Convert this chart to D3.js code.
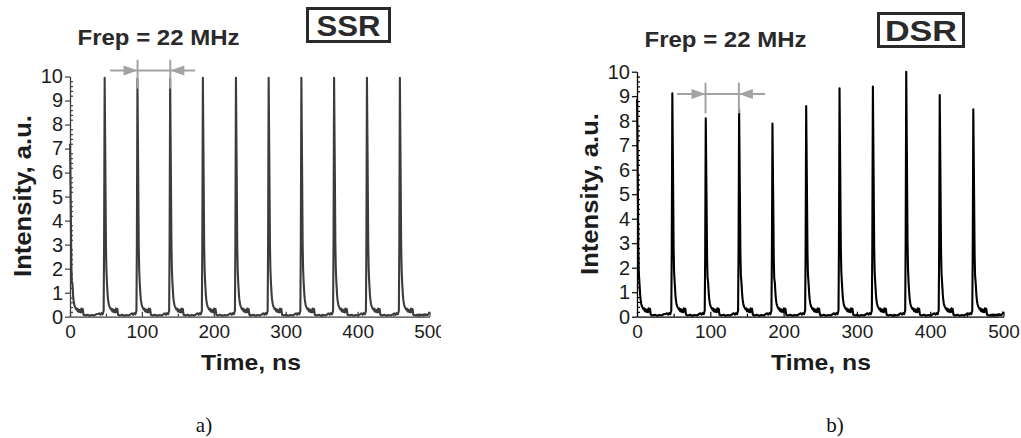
<!DOCTYPE html>
<html>
<head>
<meta charset="utf-8">
<script src="https://cdn.jsdelivr.net/npm/d3@7"></script>
<style>
  html, body { margin: 0; padding: 0; background: #fff; }
  svg { display: block; font-family: "Liberation Sans", Arial, sans-serif; }
  .domain { stroke-width: 1.3px; }
  .tick line { stroke-width: 1.2px; }
</style>
</head>
<body>
<div id="chart"></div>
<script>
// ── Data ───────────────────────────────────────────────────────────────────
const timeTicks      = [0, 100, 200, 300, 400, 500];
const timeMinor      = [50, 150, 250, 350, 450];
const intensityTicks = [0, 1, 2, 3, 4, 5, 6, 7, 8, 9, 10];
const intensityMinor = d3.range(0, 10.01, 0.2).filter(v => Math.abs(v - Math.round(v)) > 0.01);

// pulse arrival times, ns (first entry is the tail of a pulse at t≈0)
const pulseTimes = [-0.7, 47.4, 93, 138.5, 184, 230, 275.5, 321, 366.5, 412.2, 458];
const ssrPeaks   = [7.2, 9.95, 9.9, 9.9, 9.95, 9.95, 9.95, 9.95, 9.95, 9.95, 9.95];
const dsrPeaks   = [8.9, 9.12, 8.1, 8.44, 7.88, 8.6, 9.32, 9.39, 10.0, 9.05, 8.47];

// shape of one pulse: [dt ns, value for a peak of 10]
const pulseShape = [
  [-8, 0.12], [-6.5, 0.14], [-5, 0.08], [-3.5, 0.15], [-2, 0.1], [-0.6, 0.25],
  [0, 3], [0.8, 10], [1.8, 6.2], [2.6, 3.0], [3.2, 2.0], [4, 1.4],
  [5, 0.9], [5.6, 0.7], [6.5, 0.52], [7.5, 0.42], [8.5, 0.36], [9.5, 0.3],
  [10.5, 0.34], [11.5, 0.22], [12.5, 0.3], [13.5, 0.2], [14.5, 0.28],
  [15.5, 0.18], [16.5, 0.34], [17.5, 0.2], [18.5, 0.32], [19.5, 0.08],
  [22, 0.05], [25, 0.08], [28, 0.04], [31, 0.07], [34, 0.05], [37, 0.1]
];
const traceEnd = [[482, 0.05], [486, 0.09], [490, 0.05], [494, 0.08], [497, 0.06], [499, 0.14], [500, 0.2]];

// spacing markers: horizontal level, line extent and the two pulse positions
const ssrMarker = { level: 10.25, from: 55.7, to: 174, at: [94, 139.5], top: 10.7, bottom: 9.5 };
const dsrMarker = { level: 9.09, from: 54.6, to: 174.6, at: [93.5, 139], top: 9.55, bottom: 8.3 };

// ── Build trace from the pulse shape ───────────────────────────────────────
function buildTrace(peaks) {
  const pts = [];
  pulseTimes.forEach((t0, i) => {
    pulseShape.forEach(([dt, v]) => {
      const t = t0 + dt;
      if (t < 0) return;
      pts.push([t, v > 1.5 ? v * peaks[i] / 10 : v]);
    });
  });
  return pts.concat(traceEnd);
}

// ── Panels ─────────────────────────────────────────────────────────────────
const W = 1021, H = 438;
const svg = d3.select("#chart").append("svg")
  .attr("width", W).attr("height", H);
svg.append("rect").attr("width", W).attr("height", H).attr("fill", "#fff");

const defs = svg.append("defs");
defs.append("clipPath").attr("id", "clipA")
  .append("rect").attr("x", 0).attr("y", 0).attr("width", 441).attr("height", H);
defs.append("clipPath").attr("id", "plotA")
  .append("rect").attr("x", 68.5).attr("y", 0).attr("width", 362).attr("height", 317);
defs.append("clipPath").attr("id", "plotB")
  .append("rect").attr("x", 635.5).attr("y", 0).attr("width", 369).attr("height", 317);

const TEXT = "#1c1c1c";
const GREY = "#a3a3a3";

function drawPanel(cfg) {
  const g = svg.append("g").attr("clip-path", cfg.clip ? `url(#${cfg.clip})` : null);
  const x = d3.scaleLinear().domain([0, 500]).range(cfg.xRange);
  const y = d3.scaleLinear().domain([0, 10]).range(cfg.yRange);
  const y0 = cfg.yRange[0];

  // trace
  const line = d3.line().x(d => x(d[0])).y(d => y(d[1]));
  g.append("path")
    .datum(buildTrace(cfg.peaks))
    .attr("clip-path", `url(#${cfg.plotClip})`)
    .attr("fill", "none")
    .attr("stroke", cfg.color)
    .attr("stroke-width", 2.1)
    .attr("stroke-linejoin", "round")
    .attr("d", line);

  // axes
  const yAx = g.append("g").attr("transform", `translate(${cfg.xRange[0]},0)`)
    .call(d3.axisLeft(y).tickValues(intensityTicks).tickSize(5).tickSizeOuter(0).tickPadding(2));
  g.append("g").attr("transform", `translate(${cfg.xRange[0]},0)`)
    .call(d3.axisRight(y).tickValues(intensityMinor).tickSize(3).tickSizeOuter(0).tickFormat(""))
    .select(".domain").remove();
  const xAx = g.append("g").attr("transform", `translate(0,${y0})`)
    .call(d3.axisBottom(x).tickValues(timeTicks).tickSize(-5).tickSizeOuter(0).tickPadding(8));
  g.append("g").attr("transform", `translate(0,${y0})`)
    .call(d3.axisBottom(x).tickValues(timeMinor).tickSize(-3).tickSizeOuter(0).tickFormat(""))
    .select(".domain").remove();

  g.selectAll(".domain, .tick line").attr("stroke", cfg.color);
  yAx.selectAll("text").attr("font-size", 20).attr("fill", TEXT)
    .attr("font-family", "Liberation Sans, Arial, sans-serif");
  xAx.selectAll("text").attr("font-size", 19).attr("fill", TEXT)
    .attr("font-family", "Liberation Sans, Arial, sans-serif");

  // axis titles
  g.append("text")
    .attr("transform", `translate(${cfg.yTitleX},${cfg.yTitleY}) rotate(-90)`)
    .attr("text-anchor", "middle")
    .attr("font-size", 24).attr("font-weight", "bold").attr("fill", TEXT)
    .attr("textLength", 162).attr("lengthAdjust", "spacingAndGlyphs")
    .text("Intensity, a.u.");
  g.append("text")
    .attr("x", cfg.xTitleX).attr("y", 370)
    .attr("text-anchor", "middle")
    .attr("font-size", 22).attr("font-weight", "bold").attr("fill", TEXT)
    .attr("textLength", 100).attr("lengthAdjust", "spacingAndGlyphs")
    .text("Time, ns");

  // Frep label
  g.append("text")
    .attr("x", cfg.frepX).attr("y", cfg.frepY)
    .attr("text-anchor", "middle")
    .attr("font-size", 22).attr("font-weight", "bold").attr("fill", "#2a2a2a")
    .attr("textLength", 162).attr("lengthAdjust", "spacingAndGlyphs")
    .text("Frep = 22 MHz");

  // boxed regime label
  const b = cfg.box;
  g.append("rect")
    .attr("x", b.x + 1.5).attr("y", b.y + 1.5)
    .attr("width", b.w - 3).attr("height", b.h - 3)
    .attr("fill", "none").attr("stroke", "#2a2a2a").attr("stroke-width", 3);
  g.append("text")
    .attr("x", b.x + b.w / 2).attr("y", b.y + b.h - 7)
    .attr("text-anchor", "middle")
    .attr("font-size", 29).attr("font-weight", "bold").attr("fill", "#2a2a2a")
    .attr("textLength", b.tw).attr("lengthAdjust", "spacingAndGlyphs")
    .text(b.label);

  // pulse spacing marker
  const m = cfg.marker;
  const my = y(m.level);
  g.append("line")
    .attr("x1", x(m.from)).attr("x2", x(m.to))
    .attr("y1", my).attr("y2", my)
    .attr("stroke", GREY).attr("stroke-width", 2);
  m.at.forEach(t => {
    g.append("line")
      .attr("x1", x(t)).attr("x2", x(t))
      .attr("y1", y(m.top)).attr("y2", y(m.bottom))
      .attr("stroke", GREY).attr("stroke-width", 2);
  });
  const xa = x(m.at[0]), xb = x(m.at[1]);
  g.append("path")
    .attr("d", `M${xa},${my} L${xa - 14},${my - 5} L${xa - 14},${my + 5} Z`)
    .attr("fill", GREY);
  g.append("path")
    .attr("d", `M${xb},${my} L${xb + 14},${my - 5} L${xb + 14},${my + 5} Z`)
    .attr("fill", GREY);

  // sub-figure caption
  svg.append("text")
    .attr("x", cfg.capX).attr("y", 432)
    .attr("text-anchor", "middle")
    .attr("font-family", "Liberation Serif, Times New Roman, serif")
    .attr("font-size", 21).attr("fill", "#111")
    .text(cfg.caption);
}

drawPanel({
  clip: "clipA", plotClip: "plotA",
  xRange: [70, 429.5], yRange: [316.7, 76.5],
  peaks: ssrPeaks, color: "#3c3c3c",
  yTitleX: 31, yTitleY: 196, xTitleX: 251,
  frepX: 158.5, frepY: 45,
  box: { x: 306, y: 7, w: 85, h: 36, label: "SSR", tw: 64 },
  marker: ssrMarker,
  capX: 204, caption: "a)"
});

drawPanel({
  clip: null, plotClip: "plotB",
  xRange: [637, 1003.5], yRange: [316.7, 71.7],
  peaks: dsrPeaks, color: "#000",
  yTitleX: 598, yTitleY: 194, xTitleX: 821,
  frepX: 725.5, frepY: 47,
  box: { x: 877, y: 12, w: 88, h: 36, label: "DSR", tw: 72 },
  marker: dsrMarker,
  capX: 835, caption: "b)"
});
</script>
</body>
</html>
